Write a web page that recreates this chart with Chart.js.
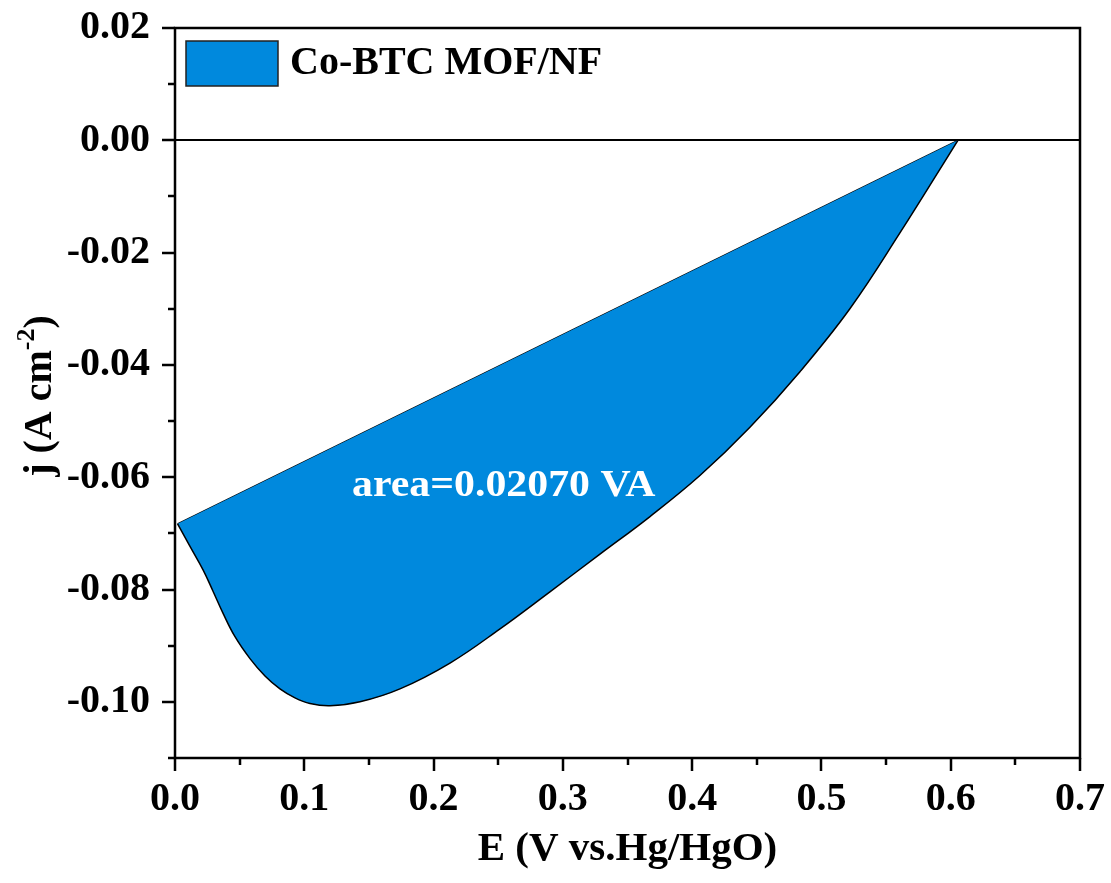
<!DOCTYPE html>
<html>
<head>
<meta charset="utf-8">
<script src="https://cdn.jsdelivr.net/npm/chart.js@4.4.1/dist/chart.umd.min.js"></script>
<style>
  html, body { margin: 0; padding: 0; background: #fff; }
  #wrap { width: 1111px; height: 883px; }
</style>
</head>
<body>
<div id="wrap"><canvas id="cv" width="1111" height="883"></canvas></div>
<script>
// LSV sweep of Co-BTC MOF/NF, j (A cm^-2) against E (V vs. Hg/HgO)
const seriesLabel = 'Co-BTC MOF/NF';
const curveE = [0.002, 0.0116, 0.0217, 0.0294, 0.0371, 0.0464, 0.058, 0.0696, 0.0812, 0.0928,
  0.1044, 0.1199, 0.1431, 0.174, 0.2127, 0.2514, 0.29, 0.3287, 0.3674, 0.406,
  0.4447, 0.4834, 0.522, 0.5607, 0.6056];
const curveJ = [-0.0683, -0.0723, -0.0765, -0.0803, -0.0842, -0.0884, -0.0923, -0.0954, -0.0977, -0.0993,
  -0.1003, -0.1007, -0.1, -0.0977, -0.0931, -0.087, -0.0804, -0.0737, -0.067, -0.0597,
  -0.0511, -0.0412, -0.03, -0.0165, 0];

// straight chord between the two ends of the sweep
const chordE = [0.002, 0.6056];
const chordJ = [-0.0683, 0];

// integrated area label and where it sits (data units)
const areaText = 'area=0.02070 VA';
const areaPos = [0.137, -0.0616];

const xMin = 0, xMax = 0.7, xStep = 0.05;
const yMin = -0.11, yMax = 0.02, yStep = 0.01;

const fillColor = '#0089dd';
const serif = "'Liberation Serif', 'Times New Roman', serif";

const toPoints = (xs, ys) => xs.map((x, i) => ({ x, y: ys[i] }));

// frame, tick marks (long where labelled), legend and annotation
const decorations = {
  id: 'decorations',
  afterDatasetsDraw(chart) {
    const { ctx, scales: { x, y } } = chart;
    ctx.save();
    ctx.translate(x.getPixelForValue(areaPos[0]), y.getPixelForValue(areaPos[1]));
    ctx.scale(1.1, 1);
    ctx.fillStyle = '#fff';
    ctx.font = 'bold 38px ' + serif;
    ctx.textAlign = 'left';
    ctx.textBaseline = 'middle';
    ctx.fillText(areaText, 0, 0);
    ctx.restore();
  },
  afterDraw(chart) {
    const { ctx, chartArea: a, scales: { x, y } } = chart;
    ctx.save();
    ctx.strokeStyle = '#000';
    ctx.lineWidth = 2.5;
    ctx.strokeRect(a.left, a.top, a.right - a.left, a.bottom - a.top);

    ctx.beginPath();
    x.ticks.forEach((t) => {
      const px = Math.round(x.getPixelForValue(t.value));
      ctx.moveTo(px, a.bottom);
      ctx.lineTo(px, a.bottom + (t.label ? 13 : 7));
    });
    y.ticks.forEach((t) => {
      const py = Math.round(y.getPixelForValue(t.value));
      ctx.moveTo(a.left, py);
      ctx.lineTo(a.left - (t.label ? 13 : 7), py);
    });
    ctx.stroke();

    // legend
    const ds = chart.data.datasets[0];
    ctx.fillStyle = ds.backgroundColor;
    ctx.lineWidth = 1.5;
    ctx.strokeStyle = '#222';
    ctx.fillRect(a.left + 11, a.top + 13, 92, 45);
    ctx.strokeRect(a.left + 11, a.top + 13, 92, 45);
    ctx.fillStyle = '#000';
    ctx.font = 'bold 40px ' + serif;
    ctx.textAlign = 'left';
    ctx.textBaseline = 'middle';
    ctx.fillText(ds.label, a.left + 115, a.top + 36);

    // y title with superscript
    const parts = [['j (A cm', 'bold 40px ' + serif, 0], ['-2', 'bold 26px ' + serif, -14], [')', 'bold 40px ' + serif, 0]];
    let total = 0;
    parts.forEach(([t, f]) => { ctx.font = f; total += ctx.measureText(t).width; });
    ctx.translate(41, 396);
    ctx.rotate(-Math.PI / 2);
    let cx = -total / 2;
    parts.forEach(([t, f, dy]) => {
      ctx.font = f;
      ctx.fillText(t, cx, dy);
      cx += ctx.measureText(t).width;
    });
    ctx.restore();
  }
};

new Chart(document.getElementById('cv'), {
  type: 'line',
  data: {
    datasets: [
      {
        label: seriesLabel,
        data: toPoints(curveE, curveJ),
        borderColor: '#000',
        borderWidth: 1.5,
        backgroundColor: fillColor,
        fill: '+1',
        tension: 0.4,
        pointRadius: 0
      },
      {
        label: 'chord',
        data: toPoints(chordE, chordJ),
        borderColor: '#000',
        borderWidth: 1.5,
        fill: false,
        pointRadius: 0
      }
    ]
  },
  plugins: [decorations],
  options: {
    responsive: false,
    animation: false,
    devicePixelRatio: 1,
    layout: { padding: { top: 28, right: 31, left: 0, bottom: 0 } },
    plugins: { legend: { display: false }, tooltip: { enabled: false } },
    scales: {
      x: {
        type: 'linear',
        min: xMin,
        max: xMax,
        afterFit: (s) => { s.height = 125; s.paddingLeft = 0; s.paddingRight = 0; },
        border: { display: false },
        grid: { display: false, drawTicks: false, tickLength: 0 },
        ticks: {
          stepSize: xStep,
          autoSkip: false,
          maxRotation: 0,
          padding: 18,
          color: '#000',
          font: { family: serif, size: 40, weight: 'bold' },
          callback: (v) => (Math.round(v * 100) % 10 === 0 ? v.toFixed(1) : '')
        },
        title: {
          display: true,
          text: 'E (V vs.Hg/HgO)',
          color: '#000',
          font: { family: serif, size: 41, weight: 'bold' },
          padding: { top: 0, bottom: 9 }
        }
      },
      y: {
        min: yMin,
        max: yMax,
        afterFit: (s) => { s.width = 175; s.paddingTop = 0; s.paddingBottom = 0; },
        border: { display: false },
        grid: {
          drawTicks: false,
          tickLength: 0,
          lineWidth: 2,
          color: (c) => (c.tick && Math.abs(c.tick.value) < 1e-9 ? '#000' : 'rgba(0,0,0,0)')
        },
        ticks: {
          stepSize: yStep,
          autoSkip: false,
          padding: 25,
          color: '#000',
          font: { family: serif, size: 40, weight: 'bold' },
          callback: (v) => (Math.round(v * 100) % 2 === 0 ? v.toFixed(2) : '')
        }
      }
    }
  }
});
</script>
</body>
</html>
